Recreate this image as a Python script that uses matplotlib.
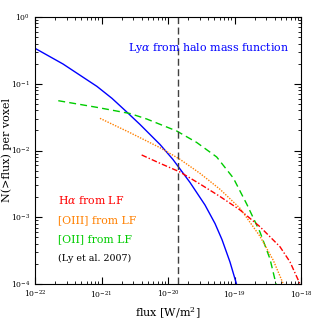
import matplotlib
matplotlib.use('Agg')
from matplotlib import pyplot as plt
import numpy as np

plt.rcParams['font.family'] = 'DejaVu Serif'
plt.rcParams['mathtext.fontset'] = 'dejavuserif'

# log10(flux [W/m^2]), log10(N(>flux))
lya_x = [-22.0, -21.579, -21.068, -20.842, -20.617, -20.421, -20.120, -19.925,
         -19.669, -19.444, -19.293, -19.188, -19.068, -18.970]
lya_y = [-0.469, -0.704, -1.040, -1.219, -1.426, -1.610, -1.910, -2.135,
         -2.479, -2.816, -3.094, -3.335, -3.670, -4.0]

oii_x = [-21.650, -21.072, -20.571, -20.320, -19.869, -19.568, -19.268, -19.018,
         -18.817, -18.617, -18.466, -18.376]
oii_y = [-1.254, -1.353, -1.446, -1.528, -1.708, -1.880, -2.097, -2.412,
         -2.801, -3.221, -3.625, -4.0]

oiii_x = [-21.023, -20.571, -20.120, -19.820, -19.519, -19.218, -18.917, -18.617,
          -18.417, -18.266]
oiii_y = [-1.518, -1.733, -1.958, -2.132, -2.342, -2.581, -2.866, -3.285,
          -3.645, -4.0]

ha_x = [-20.396, -20.120, -19.820, -19.519, -19.218, -18.917, -18.617, -18.316,
        -18.165, -18.015]
ha_y = [-2.067, -2.192, -2.322, -2.502, -2.689, -2.891, -3.142, -3.442,
        -3.670, -4.0]

flux_limit = 1.43e-20

fig = plt.figure(figsize=(3.19, 3.19), dpi=100)
ax = fig.add_axes([35/319, 35/319, 266/319, 267/319])

ax.plot(10**np.array(lya_x), 10**np.array(lya_y), color='#0000ff', lw=1.0)
ax.plot(10**np.array(oii_x), 10**np.array(oii_y), color='#00cc00', lw=1.0, ls=(0, (5, 3)))
ax.plot(10**np.array(oiii_x), 10**np.array(oiii_y), color='#ff8000', lw=1.0, ls=(0, (1, 1)))
ax.plot(10**np.array(ha_x), 10**np.array(ha_y), color='#ff0000', lw=1.0, ls=(0, (4, 1.5, 1, 1.5)))
ax.axvline(flux_limit, color='#404040', lw=1.0, ls=(0, (5, 2.5)))

ax.set_xscale('log')
ax.set_yscale('log')
ax.set_xlim(1e-22, 1e-18)
ax.set_ylim(1e-4, 1)

ax.tick_params(which='both', direction='in', top=True, right=True, labelsize=5.5)
ax.tick_params(which='major', length=5)
ax.tick_params(which='minor', length=2.5)

ax.set_xlabel(r'flux [W/m$^2$]', fontsize=8)
ax.set_ylabel('N(>flux) per voxel', fontsize=8)
ax.xaxis.set_label_coords(0.5, -0.08)
ax.yaxis.set_label_coords(-0.085, 0.5)

ax.text(0.35, 0.884, r'Ly$\alpha$ from halo mass function', transform=ax.transAxes,
        color='#0000ff', fontsize=7.9, va='center')
ax.text(0.087, 0.315, r'H$\alpha$ from LF', transform=ax.transAxes, color='#ff0000',
        fontsize=7.8, va='center')
ax.text(0.087, 0.24, '[OIII] from LF', transform=ax.transAxes, color='#ff8000',
        fontsize=7.8, va='center')
ax.text(0.087, 0.169, '[OII] from LF', transform=ax.transAxes, color='#00cc00',
        fontsize=7.8, va='center')
ax.text(0.087, 0.097, '(Ly et al. 2007)', transform=ax.transAxes, color='black',
        fontsize=6.8, va='center')

fig.savefig('out.png', dpi=100)
